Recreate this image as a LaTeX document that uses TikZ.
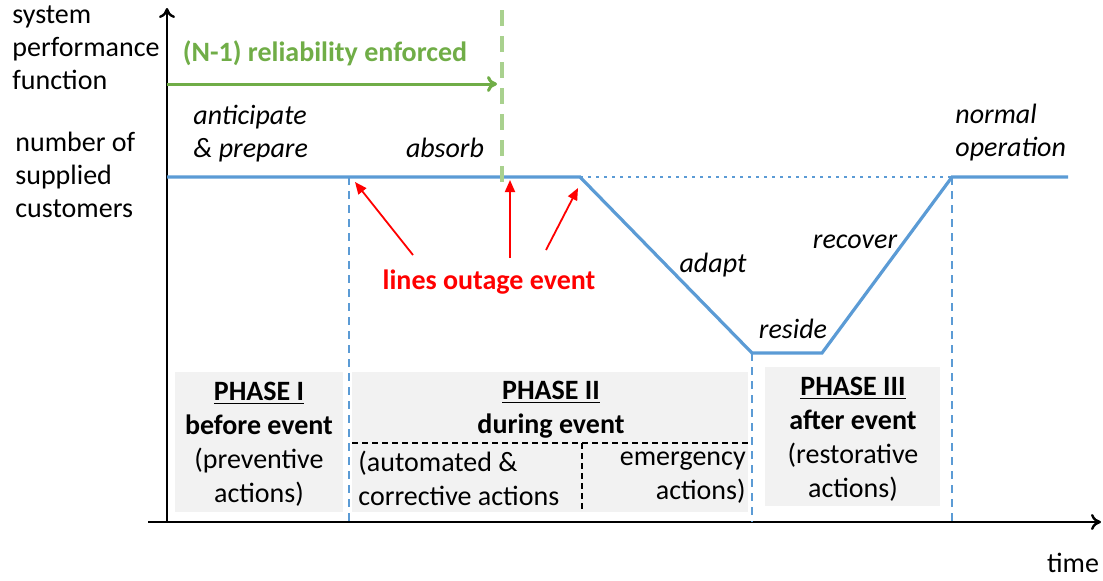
\documentclass[tikz,border=0pt]{standalone}
\usepackage{fontspec}
\setmainfont{Carlito}
\usetikzlibrary{arrows.meta}
\definecolor{cblue}{HTML}{5B9BD5}
\definecolor{cgreen}{HTML}{70AD47}
\definecolor{clgreen}{HTML}{A9D18E}
\definecolor{cred}{HTML}{FF0000}
\definecolor{cgray}{HTML}{F2F2F2}
\begin{document}
\begin{tikzpicture}[x=0.5pt,y=-0.5pt,
  txt/.style={font=\fontsize{14}{16.5}\selectfont, inner sep=0pt},
  ph/.style={font=\fontsize{14}{17}\selectfont, inner sep=0pt},
  lab/.style={font=\fontsize{14}{16.5}\selectfont\itshape, inner sep=0pt},
  axis/.style={black, line width=1.2pt, -{To[length=5pt,width=8pt]}},
  perf/.style={cblue, line width=1.6pt, line join=miter},
  vdash/.style={cblue, line width=0.8pt, dash pattern=on 4pt off 3pt},
  redarrow/.style={cred, line width=0.9pt, -{Triangle[length=6pt,width=5pt]}},
  graybox/.style={fill=cgray, draw=none}
]
\useasboundingbox (0,0) rectangle (1103,580);

% gray boxes
\fill[cgray] (175,372) rectangle (343,512);
\fill[cgray] (352,372) rectangle (748,512);
\fill[cgray] (765,367) rectangle (940,506);

% coordinates
\coordinate (o) at (167,522);
\coordinate (ytop) at (167,8);
\coordinate (xs) at (148,522);
\coordinate (xe) at (1101,522);
\coordinate (p0) at (167,177);
\coordinate (p1) at (580,177);
\coordinate (p2) at (752,353);
\coordinate (p3) at (822,353);
\coordinate (p4) at (952,177);
\coordinate (p5) at (1068,177);
\coordinate (g0) at (167,84);
\coordinate (g1) at (497,84);
\coordinate (gt) at (502,10);
\coordinate (gb) at (502,188);
\coordinate (v1t) at (349,177);
\coordinate (v1b) at (349,522);
\coordinate (v2b) at (752,522);
\coordinate (v3b) at (952,522);
\coordinate (d0) at (352,443);
\coordinate (d1) at (750,443);
\coordinate (dv0) at (582,443);
\coordinate (dv1) at (582,512);

% axes
\draw[axis] (o) -- (ytop);
\draw[axis] (xs) -- (xe);

% dashed verticals
\draw[vdash] (v1t) -- (v1b);
\draw[vdash] (p2) -- (v2b);
\draw[vdash] (p4) -- (v3b);

% blue dotted reference line
\draw[cblue, line width=1.2pt, dash pattern=on 1.5pt off 2.5pt] (p1) -- (p4);

% performance curve
\draw[perf] (p0) -- (p1) -- (p2) -- (p3) -- (p4) -- (p5);

% green
\draw[clgreen, line width=2pt, dash pattern=on 8pt off 5pt] (gt) -- (gb);
\draw[cgreen, line width=1.5pt, -{To[length=5pt,width=8pt]}] (g0) -- (g1);
\node[txt, font=\fontsize{14}{16.5}\selectfont\bfseries, text=cgreen] (rel) at (325,53) {(N-1) reliability enforced};

% phase II dashed split
\draw[black, line width=0.9pt, dash pattern=on 3pt off 2pt] (d0) -- (d1);
\draw[black, line width=0.9pt, dash pattern=on 3pt off 2pt] (dv0) -- (dv1);

% left labels
\node[txt, anchor=west, align=left] (spf) at (12,48) {system\\performance\\function};
\node[txt, anchor=west, align=left] (nsc) at (15,175) {number of\\supplied\\customers};
\node[txt] (time) at (1073,563) {time};

% italic labels
\node[lab, anchor=west, align=left] (ant) at (193,134) {anticipate\\\& prepare};
\node[lab] (abs) at (445,148) {absorb};
\node[lab] (ada) at (713,265) {adapt};
\node[lab] (res) at (793,329) {reside};
\node[lab] (rec) at (855,242) {recover};
\node[lab, anchor=west, align=left] (nor) at (955,133) {normal\\operation};

% red arrows
\node[txt, font=\fontsize{14}{16.5}\selectfont\bfseries, text=cred] (out) at (489,282) {lines outage event};
\coordinate (r1s) at (413,255);
\coordinate (r1e) at (355,182);
\coordinate (r2s) at (510,258);
\coordinate (r2e) at (510,180);
\coordinate (r3s) at (546,250);
\coordinate (r3e) at (578,188);
\draw[redarrow] (r1s) -- (r1e);
\draw[redarrow] (r2s) -- (r2e);
\draw[redarrow] (r3s) -- (r3e);

% phase texts
\node[ph, align=center] (ph1) at (259,444) {\textbf{\underline{PHASE I}}\\\textbf{before event}\\(preventive\\actions)};
\node[ph, align=center] (ph2) at (551,410) {\textbf{\underline{PHASE II}}\\\textbf{during event}};
\node[ph, align=left, anchor=west] (ph2a) at (358,478) {(automated \&\\corrective actions};
\node[ph, align=right, anchor=east] (ph2b) at (746,478) {emergency\\actions)};
\node[ph, align=center] (ph3) at (853,439) {\textbf{\underline{PHASE III}}\\\textbf{after event}\\(restorative\\actions)};
\end{tikzpicture}
\end{document}
